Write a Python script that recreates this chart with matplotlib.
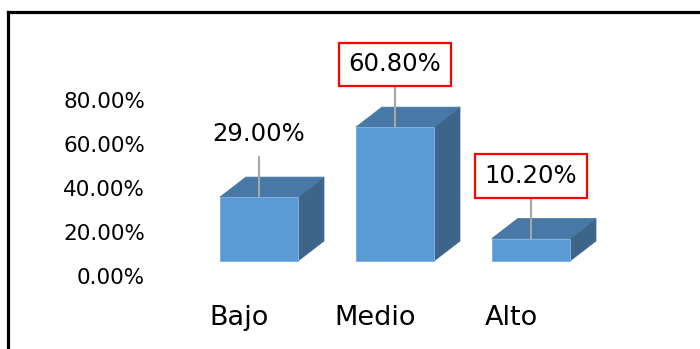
import matplotlib
matplotlib.use("Agg")
import matplotlib.pyplot as plt
from matplotlib.patches import Rectangle, Polygon
from matplotlib.lines import Line2D

categories = ["Bajo", "Medio", "Alto"]
values = [29.0, 60.8, 10.2]
value_labels = ["29.00%", "60.80%", "10.20%"]
boxed = [False, True, True]
tick_values = [0, 20, 40, 60, 80]
tick_labels = ["0.00%", "20.00%", "40.00%", "60.00%", "80.00%"]

FRONT = "#5B9BD5"
TOP = "#4878A6"
SIDE = "#3D6589"
EDGE = "#7FB0DE"

bar_w = 0.574      # front face width (category units)
depth_x = 0.191    # oblique depth offset, x
depth_y = 9.1      # oblique depth offset, y (percent units)
label_gap = 28.5   # label centre above bar top
leader_len = 18.5  # leader line length above bar top
tick_shift = -7.9  # floor of the axis labels sits below the bar floor

fig = plt.figure(figsize=(7.0, 3.49), dpi=100)
ax = fig.add_axes([0, 0, 1, 1])
ax.set_xlim(-1.904, 3.243)
ax.set_ylim(-40.0, 118.6)
ax.axis("off")

for i, (cat, v, lab, bx) in enumerate(zip(categories, values, value_labels, boxed)):
    x0, x1 = i - bar_w / 2, i + bar_w / 2
    # side face
    ax.add_patch(Polygon([(x1, 0), (x1 + depth_x, depth_y),
                          (x1 + depth_x, v + depth_y), (x1, v)],
                         closed=True, facecolor=SIDE, edgecolor=SIDE, lw=0.6))
    # top face
    ax.add_patch(Polygon([(x0, v), (x1, v), (x1 + depth_x, v + depth_y),
                          (x0 + depth_x, v + depth_y)],
                         closed=True, facecolor=TOP, edgecolor=TOP, lw=0.6))
    # front face
    ax.add_patch(Rectangle((x0, 0), bar_w, v, facecolor=FRONT,
                           edgecolor=EDGE, lw=0.7))
    # leader line and value label
    ax.plot([i, i], [v, v + leader_len], color="#A6A6A6", lw=1.5,
            solid_capstyle="butt", zorder=3)
    bbox = dict(boxstyle="square,pad=0.4", facecolor="white",
                edgecolor="#FF0000", lw=1.6) if bx else None
    ax.text(i, v + label_gap, lab, ha="center", va="center", fontsize=17.5,
            color="black", bbox=bbox, zorder=4)
    # category label
    ax.text(i - 0.147, -25.9, cat, ha="center", va="center", fontsize=19.5,
            color="black")

for tv, tl in zip(tick_values, tick_labels):
    ax.text(-0.838, tv + tick_shift, tl, ha="right", va="center",
            fontsize=15.5, color="black")

# chart frame (top and left edges)
fig.add_artist(Line2D([8 / 700, 1.0], [1 - 12 / 349, 1 - 12 / 349],
                      transform=fig.transFigure, color="black", lw=2.3))
fig.add_artist(Line2D([8 / 700, 8 / 700], [1 - 12 / 349, 0.0],
                      transform=fig.transFigure, color="black", lw=2.3))

fig.savefig("out.png", dpi=100)
